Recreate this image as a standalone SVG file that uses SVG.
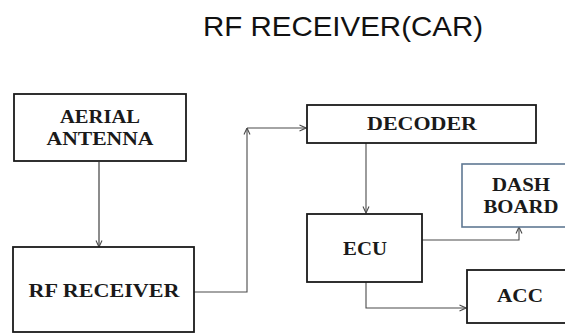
<svg xmlns="http://www.w3.org/2000/svg" width="565" height="334" viewBox="0 0 565 334">
  <defs>
    <style>
      .box { fill: #ffffff; stroke: #1a1a1a; stroke-width: 1.8; }
      .dash { fill: #ffffff; stroke: #5f7893; stroke-width: 1.6; }
      .lbl { font-family: "Liberation Serif", "Times New Roman", serif; font-weight: bold; font-size: 18.5px; fill: #1a1a1a; text-anchor: middle; }
      .title { font-family: "Liberation Sans", Arial, sans-serif; font-size: 28px; fill: #111111; }
      .conn { fill: none; stroke: #4a4a4a; stroke-width: 1.1; }
    </style>
    <marker id="arr" viewBox="0 0 8 8" refX="7.5" refY="4" markerWidth="8" markerHeight="8" markerUnits="userSpaceOnUse" orient="auto">
      <path d="M1,1 L7.5,4 L1,7" fill="none" stroke="#4a4a4a" stroke-width="1.1"/>
    </marker>
  </defs>
  <rect width="565" height="334" fill="#ffffff"/>

  <text class="title" x="203" y="36" textLength="280" lengthAdjust="spacingAndGlyphs">RF RECEIVER(CAR)</text>

  <g id="connectors">
    <line class="conn" x1="99" y1="162" x2="99" y2="247" marker-end="url(#arr)" style="stroke:#666;stroke-width:1.5"/>
    <polyline class="conn" points="194,292 247,292 247,128" marker-end="url(#arr)"/>
    <line class="conn" x1="247" y1="128" x2="306" y2="128" marker-end="url(#arr)"/>
    <line class="conn" x1="366" y1="143" x2="366" y2="213" marker-end="url(#arr)"/>
    <polyline class="conn" points="422,240 519,240 519,227" marker-end="url(#arr)"/>
    <polyline class="conn" points="366,282 366,308 466,308" marker-end="url(#arr)"/>
  </g>

  <g id="aerial-antenna">
    <rect class="box" x="14" y="94" width="172" height="67"/>
    <text class="lbl" x="100" y="123" textLength="80" lengthAdjust="spacingAndGlyphs">AERIAL</text>
    <text class="lbl" x="100" y="145" textLength="107" lengthAdjust="spacingAndGlyphs">ANTENNA</text>
  </g>

  <g id="rf-receiver">
    <rect class="box" x="13" y="247" width="181" height="85"/>
    <text class="lbl" x="104" y="297" textLength="151" lengthAdjust="spacingAndGlyphs">RF RECEIVER</text>
  </g>

  <g id="decoder">
    <rect class="box" x="307" y="105" width="229" height="38"/>
    <text class="lbl" x="422" y="130" textLength="110" lengthAdjust="spacingAndGlyphs">DECODER</text>
  </g>

  <g id="ecu">
    <rect class="box" x="307" y="214" width="115" height="68"/>
    <text class="lbl" x="365" y="255" textLength="44" lengthAdjust="spacingAndGlyphs">ECU</text>
  </g>

  <g id="dash-board">
    <rect class="dash" x="462" y="164" width="120" height="63"/>
    <text class="lbl" x="521" y="191" textLength="58" lengthAdjust="spacingAndGlyphs">DASH</text>
    <text class="lbl" x="521" y="213" textLength="75" lengthAdjust="spacingAndGlyphs">BOARD</text>
  </g>

  <g id="acc">
    <rect class="box" x="467" y="270" width="115" height="53"/>
    <text class="lbl" x="520" y="302" textLength="46" lengthAdjust="spacingAndGlyphs">ACC</text>
  </g>
</svg>
